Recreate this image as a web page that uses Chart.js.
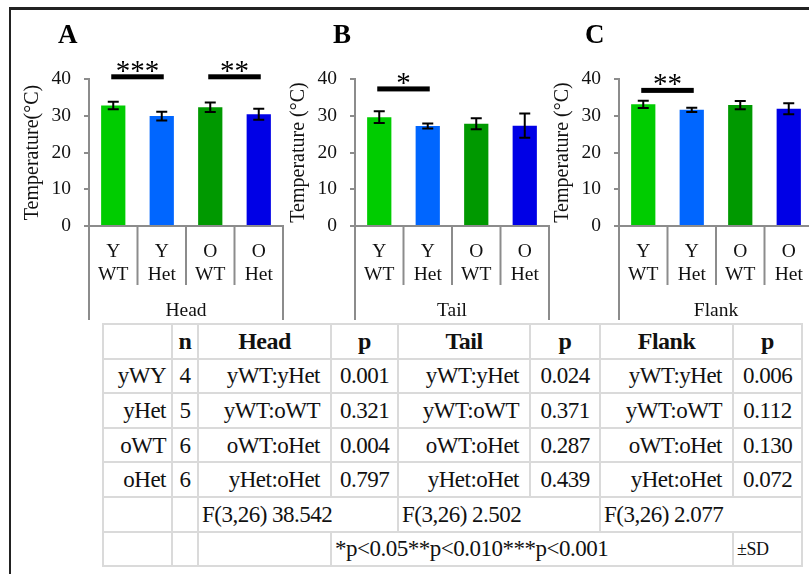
<!DOCTYPE html>
<html>
<head>
<meta charset="utf-8">
<script src="https://cdn.jsdelivr.net/npm/chart.js@4.4.1/dist/chart.umd.min.js"></script>
<style>
  html, body { margin: 0; padding: 0; background: #fff; }
  body { width: 809px; height: 574px; position: relative; overflow: hidden;
         font-family: 'Liberation Serif', 'Times New Roman', serif; color: #111; }
  .frame { position: absolute; left: 9px; top: 7px; width: 900px; height: 700px;
           border-top: 3px solid #222; border-left: 2px solid #222; }
  canvas { position: absolute; top: 10px; }
  #stats { position: absolute; left: 102px; top: 323px; border-collapse: collapse;
           table-layout: fixed; font-size: 23px; letter-spacing: -0.5px; }
  #stats td { border: 2px solid #dadada; padding: 0; height: 32.6px; white-space: nowrap;
              text-align: center; vertical-align: middle; line-height: 1; }
  #stats tr:first-child td { font-weight: bold; font-size: 24px; }
  #stats td.grp { text-align: right; padding-right: 5px; }
  #stats td.pair { text-align: right; padding-right: 10px; }
  #stats td.left { text-align: left; padding-left: 3px; }
  #stats td.sd { text-align: left; padding-left: 3px; font-size: 18px; }
</style>
</head>
<body>
<div class="frame"></div>
<canvas id="chartHead" width="290" height="312" style="left:9px"></canvas>
<canvas id="chartTail" width="290" height="312" style="left:275px"></canvas>
<canvas id="chartFlank" width="290" height="312" style="left:539px"></canvas>
<table id="stats">
  <colgroup>
    <col style="width:69px"><col style="width:26px"><col style="width:133px"><col style="width:67px">
    <col style="width:132px"><col style="width:70px"><col style="width:133px"><col style="width:69px">
  </colgroup>
  <tbody></tbody>
</table>
<script>
// Groups on the x axis (age / genotype)
const groupLabels = [['Y', 'WT'], ['Y', 'Het'], ['O', 'WT'], ['O', 'Het']];
const barColors = ['#00cc00', '#0066ff', '#009900', '#0000e6'];
const yTicks = [0, 10, 20, 30, 40];

// Mean surface temperature and SD per region
const headMean = [32.8, 29.9, 32.3, 30.4];
const headSD = [1.0, 1.2, 1.3, 1.5];
const tailMean = [29.6, 27.2, 27.8, 27.3];
const tailSD = [1.6, 0.7, 1.5, 3.3];
const flankMean = [33.1, 31.6, 32.9, 31.9];
const flankSD = [1.0, 0.55, 1.1, 1.5];

// Significance brackets: [from group, to group, level (°C), stars]
const headSig = [[0, 1, 40.6, '***'], [2, 3, 40.6, '**']];
const tailSig = [[0, 1, 37.3, '*']];
const flankSig = [[0, 1, 36.9, '**']];

// Stats table
const statGroups = ['yWY', 'yHet', 'oWT', 'oHet'];
const statN = [4, 5, 6, 6];
const statPairs = ['yWT:yHet', 'yWT:oWT', 'oWT:oHet', 'yHet:oHet'];
const headP = ['0.001', '0.321', '0.004', '0.797'];
const tailP = ['0.024', '0.371', '0.287', '0.439'];
const flankP = ['0.006', '0.112', '0.130', '0.072'];
const fStats = ['F(3,26) 38.542', 'F(3,26) 2.502', 'F(3,26) 2.077'];
const sigNote = '*p<0.05**p<0.010***p<0.001';

const SERIF = "'Liberation Serif', 'Times New Roman', serif";
const AXIS_GREY = '#8c8c8c';

// error bars, brackets, category dividers and panel letter
const panelExtras = {
  id: 'panelExtras',
  afterDatasetsDraw(chart, args, opts) {
    const ctx = chart.ctx;
    const x = chart.scales.x, y = chart.scales.y;
    const meta = chart.getDatasetMeta(0);
    const ds = chart.data.datasets[0];
    ctx.save();
    ctx.strokeStyle = '#000';
    ctx.lineWidth = 2;
    meta.data.forEach((bar, i) => {
      const m = ds.data[i], sd = opts.sd[i];
      const top = y.getPixelForValue(m + sd), bot = y.getPixelForValue(m - sd);
      ctx.beginPath();
      ctx.moveTo(bar.x, top); ctx.lineTo(bar.x, bot);
      ctx.moveTo(bar.x - 5.5, top); ctx.lineTo(bar.x + 5.5, top);
      ctx.moveTo(bar.x - 5.5, bot); ctx.lineTo(bar.x + 5.5, bot);
      ctx.stroke();
    });
    opts.sig.forEach(([a, b, level, stars]) => {
      const x1 = x.getPixelForValue(a) - 2, x2 = x.getPixelForValue(b) + 2;
      const yy = y.getPixelForValue(level);
      ctx.fillStyle = '#000';
      ctx.fillRect(x1, yy - 2.5, x2 - x1, 5);
      ctx.font = '29px ' + SERIF;
      ctx.textAlign = 'center';
      ctx.textBaseline = 'alphabetic';
      ctx.fillText(stars, (x1 + x2) / 2, yy + 3);
    });
    ctx.restore();
  },
  afterDraw(chart, args, opts) {
    const ctx = chart.ctx;
    const x = chart.scales.x;
    const base = chart.chartArea.bottom;
    const n = chart.data.labels.length;
    ctx.save();
    ctx.strokeStyle = AXIS_GREY;
    ctx.lineWidth = 2;
    for (let i = 0; i <= n; i++) {
      const px = x.getPixelForValue(i - 0.5);
      const outer = (i === 0 || i === n);
      ctx.beginPath();
      ctx.moveTo(px, base);
      ctx.lineTo(px, outer ? 310 : 275);
      ctx.stroke();
    }
    ctx.fillStyle = '#000';
    ctx.font = 'bold 27px ' + SERIF;
    ctx.textAlign = 'left';
    ctx.textBaseline = 'alphabetic';
    ctx.fillText(opts.letter, chart.chartArea.left + opts.letterDx, 33);
    ctx.restore();
  }
};

function makeChart(id, means, sds, sig, region, yTitle, letter, letterDx) {
  const ctx = document.getElementById(id).getContext('2d');
  return new Chart(ctx, {
    type: 'bar',
    data: {
      labels: groupLabels,
      datasets: [{
        data: means,
        backgroundColor: barColors,
        borderWidth: 0,
        barPercentage: 0.5,
        categoryPercentage: 1.0
      }]
    },
    options: {
      responsive: false,
      animation: false,
      layout: { padding: { left: 0, top: 69, right: 16, bottom: 0 } },
      plugins: {
        legend: { display: false },
        tooltip: { enabled: false },
        panelExtras: { sd: sds, sig: sig, letter: letter, letterDx: letterDx }
      },
      scales: {
        x: {
          offset: true,
          grid: { display: false, drawTicks: false },
          border: { display: true, color: AXIS_GREY, width: 2 },
          ticks: {
            padding: 14, color: '#111', maxRotation: 0, autoSkip: false,
            font: { family: SERIF, size: 19.5, lineHeight: 1.2 }
          },
          title: {
            display: true, text: region, color: '#111',
            font: { family: SERIF, size: 19.5, lineHeight: 1 },
            padding: { top: 0, bottom: 1 }
          },
          afterFit(scale) { scale.height = 96; }
        },
        y: {
          min: 0, max: 40,
          afterBuildTicks(scale) { scale.ticks = yTicks.map(v => ({ value: v })); },
          grid: { drawOnChartArea: false, drawTicks: true, tickLength: 5, color: AXIS_GREY, lineWidth: 2 },
          border: { display: true, color: AXIS_GREY, width: 2 },
          ticks: { padding: 13, color: '#111', font: { family: SERIF, size: 19.5 } },
          title: {
            display: true, text: yTitle, color: '#111',
            font: { family: SERIF, size: 20 },
            padding: { top: 12, bottom: 0 }
          },
          afterFit(scale) { scale.width = 80; }
        }
      }
    },
    plugins: [panelExtras]
  });
}

makeChart('chartHead', headMean, headSD, headSig, 'Head', 'Temperature(°C)', 'A', -31);
makeChart('chartTail', tailMean, tailSD, tailSig, 'Tail', 'Temperature (°C)', 'B', -22);
makeChart('chartFlank', flankMean, flankSD, flankSig, 'Flank', 'Temperature (°C)', 'C', -34);

// stats table below the charts
function cell(text, cls, span) {
  const td = document.createElement('td');
  td.textContent = text;
  if (cls) td.className = cls;
  if (span) td.colSpan = span;
  return td;
}
const tbody = document.querySelector('#stats tbody');
const rows = [];
rows.push([cell(''), cell('n'), cell('Head'), cell('p'), cell('Tail'), cell('p'), cell('Flank'), cell('p')]);
statGroups.forEach((g, i) => {
  rows.push([
    cell(g, 'grp'), cell(String(statN[i])),
    cell(statPairs[i], 'pair'), cell(headP[i]),
    cell(statPairs[i], 'pair'), cell(tailP[i]),
    cell(statPairs[i], 'pair'), cell(flankP[i])
  ]);
});
rows.push([cell(''), cell(''), cell(fStats[0], 'left', 2), cell(fStats[1], 'left', 2), cell(fStats[2], 'left', 2)]);
rows.push([cell(''), cell(''), cell(''), cell(sigNote, 'left', 4), cell('±SD', 'sd')]);
rows.forEach(cells => {
  const tr = document.createElement('tr');
  cells.forEach(c => tr.appendChild(c));
  tbody.appendChild(tr);
});
</script>
</body>
</html>
